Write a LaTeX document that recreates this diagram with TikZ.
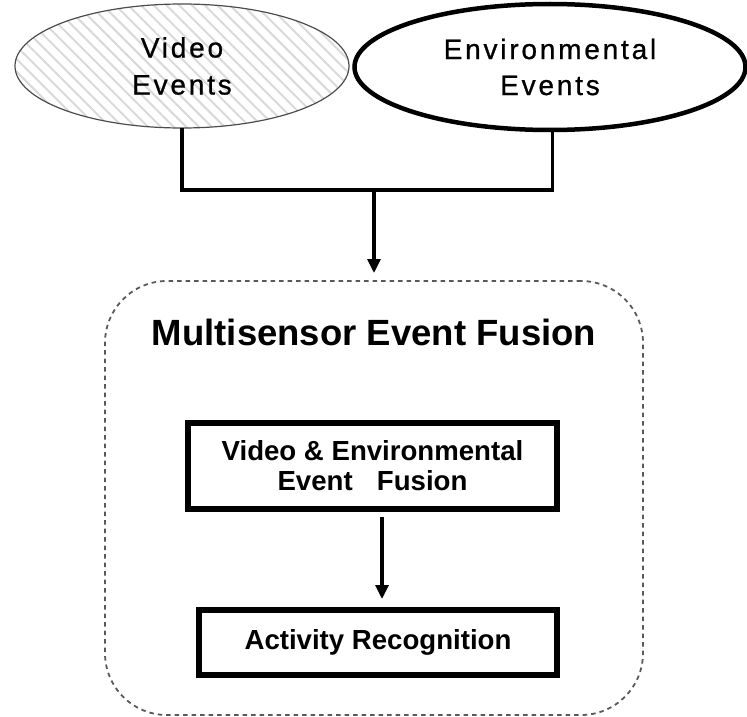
\documentclass[tikz,border=0pt]{standalone}
\usepackage{fontspec}
\setmainfont{Liberation Sans}
\newfontfamily\spacedfont[LetterSpace=10,FakeBold=0.8]{Liberation Sans}
\usetikzlibrary{shapes.geometric,arrows.meta,patterns.meta}
\begin{document}
\begin{tikzpicture}[x=1pt,y=-1pt,
  evt/.style={ellipse, inner sep=0pt, outer sep=0pt, align=center,
    font=\spacedfont\fontsize{28}{37}\selectfont},
  conn/.style={line width=3.4pt, line join=miter},
  arrowline/.style={line width=3.2pt, -{Triangle[width=13pt,length=14pt]}},
  stepbox/.style={draw, line width=5.5pt, inner sep=0pt, outer sep=0pt, align=center,
    font=\bfseries\fontsize{27.6}{30}\selectfont},
  groupbox/.style={draw=black!65, line width=1.8pt, dash pattern=on 4.5pt off 4pt,
    rounded corners=62pt, inner sep=0pt, outer sep=0pt}]
\useasboundingbox (0,0) rectangle (747,717);

% group box
\node[groupbox, minimum width=538pt, minimum height=434pt] (fus) at (374,498) {};
\node[font=\bfseries\fontsize{36.5}{40}\selectfont, anchor=base] (title) at (374,345) {Multisensor Event Fusion};

% source ellipses
\node[evt, draw=black!70, line width=1.2pt,
  pattern={Lines[angle=-45,distance=9pt,line width=2pt]}, pattern color=black!15,
  minimum width=334pt, minimum height=124pt] (le) at (182,66) {Video\\Events};
\node[evt, draw, line width=4.5pt, minimum width=391pt, minimum height=126pt,
  font=\spacedfont\fontsize{28}{36}\selectfont] (re) at (550,67) {Environmental\\Events};

% inner boxes
\node[stepbox, minimum width=369pt, minimum height=86pt] (b1) at (372.5,466) {Video \& Environmental\\Event\hspace{0.6em} Fusion};
\node[stepbox, minimum width=358pt, minimum height=65pt] (b2) at (378,642.5) {Activity Recognition};

% connectors
\coordinate (j) at (374,190);
\draw[conn] (le.south) |- (j) -| (re.272);
\draw[arrowline, shorten >=8pt] (j) -- (fus.north);
\draw[arrowline, shorten <=8pt, shorten >=11pt] ([xshift=9.5pt]b1.south) -- ([xshift=9.5pt]b1.south |- b2.north);
\end{tikzpicture}
\end{document}
